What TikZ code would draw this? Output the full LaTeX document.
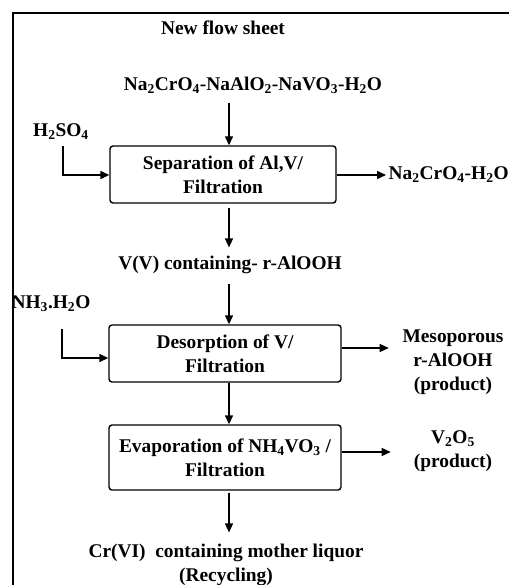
\documentclass[tikz,border=0pt]{standalone}
\usepackage{fontspec}
\setmainfont{Liberation Serif}
\usetikzlibrary{arrows.meta}
\newcommand{\chs}[1]{\textsubscript{#1}}

\begin{document}
\begin{tikzpicture}[x=1pt,y=-1pt,line width=1.4pt,
    >={Triangle[length=9pt,width=8pt]},
    font=\fontsize{19.4}{24}\selectfont\bfseries,
    box/.style={draw,rounded corners=3pt,align=center,inner sep=0pt,
      minimum width=232pt,minimum height=57pt},
    lbl/.style={align=center,inner sep=5pt}]
  \useasboundingbox (0,0) rectangle (509,585);
  \draw (13,585) -- (13,13) -- (509,13);
  \coordinate (spine) at (229,0);
  % labels and steps
  \node[lbl] (title) at (223,28) {New flow sheet};
  \node[lbl] (feed) at (253,85)
    {Na\chs{2}CrO\chs{4}-NaAlO\chs{2}-NaVO\chs{3}-H\chs{2}O};
  \node[box,minimum width=226pt] (sep) at (223,174.5)
    {Separation of Al,V/\\Filtration};
  \node[lbl] (acid) at (61,132) {H\chs{2}SO\chs{4}};
  \node[lbl,anchor=west,inner sep=2pt] (liquor) at (386,175)
    {Na\chs{2}CrO\chs{4}-H\chs{2}O};
  \node[lbl] (loaded) at (230,265) {V(V) containing- r-AlOOH};
  \node[box] (desorb) at (225,353.5) {Desorption of V/\\Filtration};
  \node[lbl] (ammonia) at (51,304) {NH\chs{3}.H\chs{2}O};
  \node[lbl] (meso) at (453,362) {Mesoporous\\r-AlOOH\\(product)};
  \node[box,minimum height=65pt] (evap) at (225,457.5)
    {Evaporation of NH\chs{4}VO\chs{3} /\\Filtration};
  \node[lbl] (oxide) at (453,451.5) {V\chs{2}O\chs{5}\\(product)};
  \node[lbl] (mother) at (226,565)
    {Cr(VI)\ \ containing mother liquor\\(Recycling)};
  % connectors
  \draw[->,shorten <=4pt] (feed.south -| spine) -- (sep.north -| spine);
  \draw[->] ([xshift=2pt]acid.south) |- ([yshift=-0.5pt]sep.west);
  \draw[->] ([yshift=-0.5pt]sep.east) -- (liquor.west);
  \draw[->,shorten <=4pt,shorten >=3pt] (sep.south -| spine) -- (loaded.north -| spine);
  \draw[->,shorten <=4pt] (loaded.south -| spine) -- (desorb.north -| spine);
  \draw[->] ([xshift=11pt,yshift=-11pt]ammonia.south) |- ([yshift=-4.5pt]desorb.west);
  \draw[->] ([yshift=5.5pt]desorb.east) -- ++(47,0);
  \draw[->] (desorb.south -| spine) -- (evap.north -| spine);
  \draw[->] ([yshift=5.5pt]evap.east) -- ++(49,0);
  \draw[->,shorten <=2pt,shorten >=6pt] (evap.south -| spine) -- (mother.north -| spine);
\end{tikzpicture}
\end{document}
